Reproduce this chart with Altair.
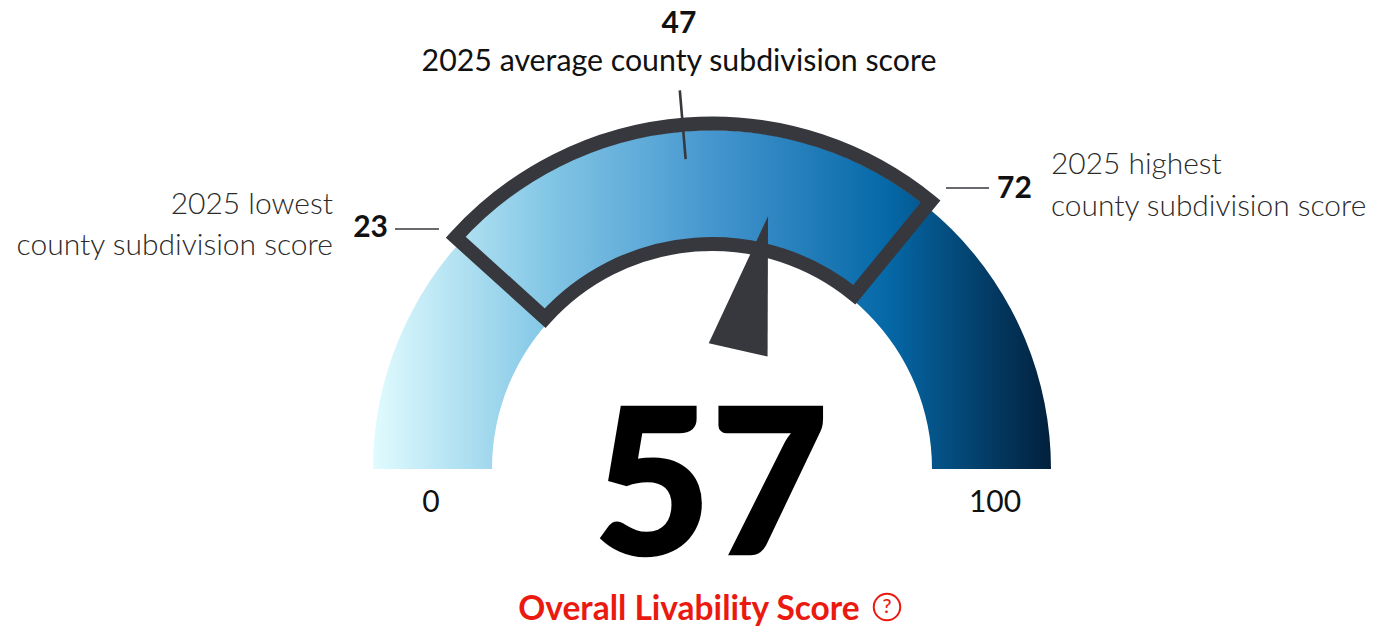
import math
import altair as alt
import pandas as pd

W, H = 1358, 618
CX, CY = 704, 461  # gauge centre inside the plot area

score_value = [57]
domain_min, domain_max = 0, 100
band_low, band_avg, band_high = 23.4, 47.3, 71.8

gauge_stops = [
    (0.0, "#e0fbfe"), (0.25, "#85c8e6"), (0.5, "#4596cf"), (0.76, "#0568a7"), (1.0, "#02203c"),
]

px_x = alt.Scale(domain=[0, W], range=[0, W], nice=False, zero=False)
px_y = alt.Scale(domain=[0, H], range=[0, H], nice=False, zero=False)
theta_s = alt.Scale(domain=[domain_min, domain_max], range=[-math.pi / 2, math.pi / 2])


def X(f):
    return alt.X(f, type="quantitative", scale=px_x, axis=None)


def Y(f):
    return alt.Y(f, type="quantitative", scale=px_y, axis=None)


def polar(score, r):
    a = math.radians(-90 + 180 * score / 100)
    return CX + r * math.sin(a), CY - r * math.cos(a)


gradient = alt.Gradient(
    gradient="linear", x1=0, x2=1, y1=0, y2=0,
    stops=[alt.GradientStop(offset=o, color=c) for o, c in gauge_stops],
)

centre = dict(x=alt.value(CX), y=alt.value(CY))

gauge = alt.Chart(pd.DataFrame({"a": [domain_min], "b": [domain_max]})).mark_arc(
    radius=339, radius2=220, fill=gradient
).encode(theta=alt.Theta("a:Q", scale=theta_s), theta2="b:Q", **centre)

band = alt.Chart(pd.DataFrame({"a": [band_low], "b": [band_high]})).mark_arc(
    radius=345.5, radius2=225, fillOpacity=0, stroke="#37383d", strokeWidth=14, strokeJoin="miter", strokeMiterLimit=10
).encode(theta=alt.Theta("a:Q", scale=theta_s), theta2="b:Q", **centre)

p0, p1 = polar(band_avg, 380), polar(band_avg, 311)
avg_tick = alt.Chart(pd.DataFrame({"x": [p0[0]], "x2": [p1[0]], "y": [p0[1]], "y2": [p1[1]]})).mark_rule(
    stroke="#37383d", strokeWidth=2.6
).encode(x=X("x"), x2="x2:Q", y=Y("y"), y2="y2:Q")

side_ticks = alt.Chart(pd.DataFrame({"x": [387, 938], "x2": [431, 981], "y": [221, 180]})).mark_rule(
    stroke="#37383d", strokeWidth=1.6
).encode(x=X("x"), x2="x2:Q", y=Y("y"))

needle = alt.Chart(pd.DataFrame({"x": [745.1], "y": [275]})).mark_point(
    shape="M0,-1 L0.44,1 L-0.44,1 Z", size=18769, filled=True, opacity=1,
    fill="#37383d", strokeWidth=0, angle=-90 + 180 * score_value[0] / 100,
).encode(x=X("x"), y=Y("y"))


def label(rows, size, weight=400, color="#111111", align="center", **kw):
    df = pd.DataFrame(rows, columns=["t", "x", "y"])
    return alt.Chart(df).mark_text(
        font="Lato", fontSize=size, fontWeight=weight, color=color, align=align, baseline="middle", **kw
    ).encode(x=X("x"), y=Y("y"), text="t:N")


red = "#ea1a10"
layers = [
    gauge, band, avg_tick, side_ticks, needle,
    label([("47", 671, 16)], 30, 700),
    label([("2025 average county subdivision score", 671, 54)], 30.3),
    label([("2025 lowest", 325, 197), ("county subdivision score", 325, 238)], 30, 300, "#2b2b2b", "right"),
    label([("23", 380, 220)], 30, 700, align="right"),
    label([("72", 1006.5, 181)], 30, 700),
    label([("2025 highest", 1043, 157), ("county subdivision score", 1043, 199)], 29.9, 300, "#2b2b2b", "left"),
    label([("0", 423, 495), ("100", 987, 495)], 30),
    label([(str(score_value[0]), 703, 484.5)], 202, 900, "#000000", stroke="#000000", strokeWidth=2.5),
    label([("Overall Livability Score", 681, 602)], 33.5, 700, red),
    label([("?", 879, 599)], 20, 500, red),
    alt.Chart(pd.DataFrame({"x": [879], "y": [599]})).mark_point(
        shape="circle", size=700, stroke=red, strokeWidth=2, filled=False, opacity=1
    ).encode(x=X("x"), y=Y("y")),
]

chart = alt.layer(*layers).properties(
    width=W, height=H, padding=0, autosize=alt.AutoSizeParams(type="none"), background="white"
).configure_view(stroke=None)

chart.save("out.html", embed_options={"renderer": "svg", "actions": False})
